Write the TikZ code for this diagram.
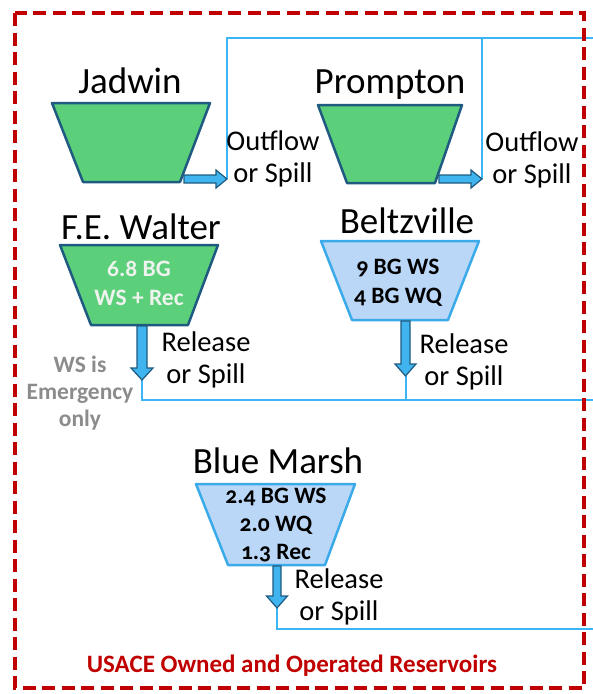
\documentclass[tikz,border=0pt]{standalone}
\usepackage{fontspec}
\setmainfont{Carlito}[Numbers=OldStyle]
\usetikzlibrary{positioning}

\definecolor{damgreen}{HTML}{5CCF7A}
\definecolor{damedge}{HTML}{1F5B80}
\definecolor{damblue}{HTML}{BAD7F7}
\definecolor{damblueedge}{HTML}{3BAAE8}
\definecolor{flowfill}{HTML}{40B4EE}
\definecolor{riverblue}{HTML}{3BB5F5}
\definecolor{usacered}{HTML}{C00000}
\definecolor{notegray}{HTML}{8C8C8C}
\definecolor{paletext}{HTML}{EEF3EE}

\tikzset{
  damname/.style={anchor=base, inner sep=0pt, font=\fontsize{37}{42}\selectfont},
  flowtext/.style={anchor=base, inner sep=0pt, align=center, font=\fontsize{28.5}{32}\selectfont},
  storetext/.style={anchor=base, inner sep=0pt, align=center, font=\bfseries\fontsize{23.5}{29}\selectfont},
  greenres/.style={fill=damgreen, draw=damedge, line width=2.5pt, line join=round},
  blueres/.style={fill=damblue, draw=damblueedge, line width=2.5pt, line join=round},
  flowarrow/.style={fill=flowfill, draw=damedge, line width=1.2pt},
  river/.style={draw=riverblue, line width=2pt},
}

\begin{document}
\begin{tikzpicture}[x=1pt, y=-1pt]
    \useasboundingbox (0,0) rectangle (593,694);

    % points where the outflow meets the river
    \coordinate (jadTip) at (227,179);
    \coordinate (promTip) at (482,179);
    \coordinate (walTip) at (142,380);
    \coordinate (beltTip) at (405.5,376);
    \coordinate (bmTip) at (277,608);
    \coordinate (eastTop) at (593,38);
    \coordinate (eastMid) at (593,400);
    \coordinate (eastLow) at (593,629);

    % --- river lines ---
    \draw[river, line width=2.6pt] (jadTip) |- (eastTop);
    \draw[river] (promTip) -- (promTip |- eastTop);
    \draw[river] (walTip) |- (eastMid);
    \draw[river] (beltTip) -- (beltTip |- eastMid);
    \draw[river] (bmTip) |- (eastLow);

    % --- Jadwin ---
    \node[damname] (jadName) at (130,93) {Jadwin};
    \filldraw[greenres] (52,103) -- (210,103) -- (180,182) -- (83,182) -- cycle;
    \filldraw[flowarrow] (jadTip) -- ++(-11,-9) -- ++(0,5) -- ++(-32,0) -- ++(0,8)
        -- ++(32,0) -- ++(0,5) -- cycle;
    \node[flowtext] (jadOut) at (273,182) {Outflow\\or Spill};

    % --- Prompton ---
    \node[damname] (promName) at (390,93) {Prompton};
    \filldraw[greenres] (318,105) -- (462,105) -- (435,183) -- (347,183) -- cycle;
    \filldraw[flowarrow] (promTip) -- ++(-11,-9) -- ++(0,5) -- ++(-32,0) -- ++(0,8)
        -- ++(32,0) -- ++(0,5) -- cycle;
    \node[flowtext] (promOut) at (532,183) {Outflow\\or Spill};

    % --- F.E. Walter ---
    \node[damname] (walName) at (141,239) {F.E. Walter};
    \filldraw[greenres] (60,245) -- (218,245) -- (188,325) -- (91,325) -- cycle;
    \node[storetext, text=paletext] (walStore) at (139,305) {6.8 BG\\WS + Rec};
    \filldraw[flowarrow] (walTip) -- ++(-11,-12) -- ++(6,0) -- ++(0,-42) -- ++(10,0)
        -- ++(0,42) -- ++(6,0) -- cycle;
    \node[flowtext] (walOut) at (206,383) {Release\\or Spill};
    \node[storetext, text=notegray, font=\bfseries\fontsize{23.5}{27}\selectfont]
        (walNote) at (80,426) {WS is\\Emergency\\only};

    % --- Beltzville ---
    \node[damname] (beltName) at (407,233) {Beltzville};
    \filldraw[blueres] (321,241) -- (479,241) -- (448,320) -- (352,320) -- cycle;
    \node[storetext] (beltStore) at (398,303) {9 BG WS\\4 BG WQ};
    \filldraw[flowarrow] (beltTip) -- ++(-10.5,-12) -- ++(6,0) -- ++(0,-43) -- ++(9,0)
        -- ++(0,43) -- ++(6,0) -- cycle;
    \node[flowtext] (beltOut) at (464,385) {Release\\or Spill};

    % --- Blue Marsh ---
    \node[damname] (bmName) at (278,473) {Blue Marsh};
    \filldraw[blueres] (196,484) -- (355,484) -- (325,565) -- (228,565) -- cycle;
    \node[storetext, font=\bfseries\fontsize{23.5}{28}\selectfont] (bmStore) at (276,559)
        {2.4 BG WS\\2.0 WQ\\1.3 Rec};
    \filldraw[flowarrow] (bmTip) -- ++(-10.5,-12) -- ++(6.5,0) -- ++(0,-30) -- ++(8,0)
        -- ++(0,30) -- ++(6.5,0) -- cycle;
    \node[flowtext] (bmOut) at (339,620) {Release\\or Spill};

    % --- USACE boundary ---
    \draw[usacered, line width=4pt, dash pattern=on 13pt off 6.5pt] (15,13) rectangle (584,688);
    \node[anchor=base, inner sep=0pt, text=usacered, font=\bfseries\fontsize{25}{28}\selectfont]
        (usace) at (292,672) {USACE Owned and Operated Reservoirs};
\end{tikzpicture}
\end{document}
